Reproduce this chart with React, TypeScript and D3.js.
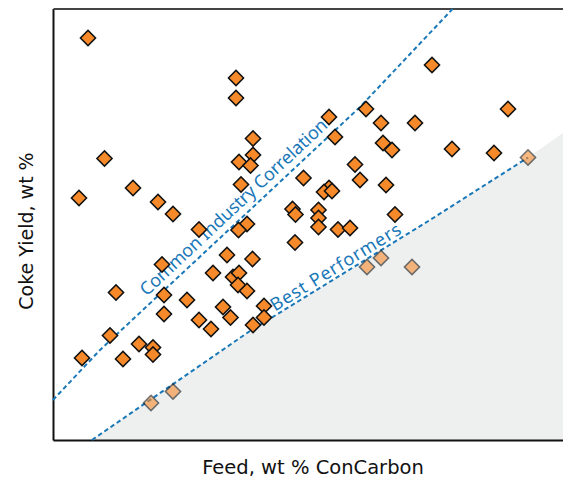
import React, { useEffect, useRef } from 'react';
import * as d3 from 'd3';

// feed ConCarbon (x) vs coke yield (y), arbitrary units
const refineryX = [3.5, 18.3, 18.3, 37.9, 45.5, 31.3, 27.6, 20.0, 32.8, 36.2, 28.2, 5.15, 20.0, 18.6, 19.75, 33.0, 33.9, 39.9, 44.1, 30.2, 18.8, 8.0, 2.6, 10.5, 12.0, 25.05, 30.7, 33.3, 27.6, 27.1, 27.9, 23.95, 24.25, 26.55, 26.55, 26.55, 34.2, 28.5, 29.7, 19.4, 18.55, 14.6, 24.2, 17.4, 19.95, 10.9, 16.0, 18.0, 18.6, 18.5, 19.4, 6.3, 11.1, 13.4, 17.0, 17.75, 21.1, 21.1, 11.1, 14.6, 15.8, 20.0, 5.7, 8.6, 10.0, 10.0, 2.9, 7.0];
const refineryY = [40.2, 36.2, 34.2, 37.5, 33.1, 33.1, 32.3, 30.15, 31.7, 31.7, 30.3, 28.15, 28.5, 27.8, 27.45, 29.7, 29.0, 29.1, 28.7, 27.55, 25.55, 25.2, 24.2, 23.8, 22.6, 26.2, 26.0, 25.5, 25.2, 24.8, 24.9, 23.1, 22.55, 23.0, 22.2, 21.3, 22.55, 21.05, 21.2, 21.6, 21.0, 21.05, 19.75, 18.5, 18.1, 17.55, 16.7, 16.3, 16.7, 15.5, 14.9, 14.75, 14.5, 14.0, 13.3, 12.25, 13.4, 12.25, 12.6, 12.0, 11.1, 11.5, 10.45, 9.6, 9.25, 8.55, 8.2, 8.1];

// points sitting in the shaded zone below the best performer line
const shadedX = [47.5, 9.8, 12.0, 31.4, 32.8, 35.9];
const shadedY = [28.25, 3.7, 4.85, 17.3, 18.2, 17.3];

const commonLine = [[0, 4.0], [4.7, 9.0], [19.7, 23.0], [30.7, 33.3], [40.0, 43.15]];
const bestLine = [[3.9, 0], [19.7, 10.9], [37.7, 22.0], [47.5, 28.25]];
const shadeEdge = [[3.9, 0], [19.7, 10.9], [37.7, 22.0], [47.5, 28.25], [51, 30.7], [51, 0]];

const xLabel = 'Feed, wt % ConCarbon';
const yLabel = 'Coke Yield, wt %';
const commonLabel = 'Common Industry Correlation';
const bestLabel = 'Best Performers';

const App = () => {
    const svgRef = useRef(null);

    useEffect(() => {
        const svg = d3.select(svgRef.current);
        svg.selectAll('*').remove();

        const left = 53, right = 563, top = 8.5, bottom = 440;
        const x = d3.scaleLinear().domain([0, 51]).range([left, right]);
        const y = d3.scaleLinear().domain([0, 43.15]).range([bottom, top]);

        const blue = '#1a78b8';
        const orange = '#f68a2b';

        // shaded region
        svg.append('path')
            .attr('d', d3.line().x(d => x(d[0])).y(d => y(d[1]))(shadeEdge) + 'Z')
            .attr('fill', '#eeefef');

        // frame
        svg.append('g')
            .attr('transform', `translate(0,${bottom})`)
            .call(d3.axisBottom(x).tickValues([]).tickSizeOuter(0))
            .select('.domain').attr('stroke', '#111').attr('stroke-width', 2);
        svg.append('g')
            .attr('transform', `translate(${left},0)`)
            .call(d3.axisLeft(y).tickValues([]).tickSizeOuter(0))
            .select('.domain').attr('stroke', '#111').attr('stroke-width', 2);
        svg.append('g')
            .attr('transform', `translate(0,${top})`)
            .call(d3.axisTop(x).tickValues([]).tickSizeOuter(0))
            .select('.domain').attr('stroke', '#444').attr('stroke-width', 2);

        const line = d3.line().x(d => x(d[0])).y(d => y(d[1]));
        [commonLine, bestLine].forEach(pts => {
            svg.append('path')
                .attr('d', line(pts))
                .attr('fill', 'none')
                .attr('stroke', blue)
                .attr('stroke-width', 2)
                .attr('stroke-dasharray', '4.5,3');
        });

        // labels along the lines
        const angle = (a, b) => Math.atan2(y(b[1]) - y(a[1]), x(b[0]) - x(a[0])) * 180 / Math.PI;
        const addLineLabel = (text, pos, ang, len) => {
            svg.append('text')
                .attr('transform', `translate(${x(pos[0])},${y(pos[1])}) rotate(${ang})`)
                .attr('font-family', '"Noto Sans", "Open Sans", sans-serif')
                .attr('font-size', 18)
                .attr('textLength', len)
                .attr('lengthAdjust', 'spacing')
                .attr('fill', blue)
                .text(text);
        };
        addLineLabel(commonLabel, [9.37, 14.33], angle(commonLine[1], commonLine[3]), 249);
        addLineLabel(bestLabel, [22.2, 12.83], angle(bestLine[1], bestLine[2]), 150);

        const diamond = d3.symbol(d3.symbolSquare, 115);

        svg.selectAll('.shaded')
            .data(shadedX.map((v, i) => [v, shadedY[i]]))
            .enter()
            .append('path')
            .attr('class', 'shaded')
            .attr('d', diamond)
            .attr('transform', d => `translate(${x(d[0])},${y(d[1])}) rotate(45)`)
            .attr('fill', orange)
            .attr('stroke', '#111')
            .attr('stroke-width', 1.5)
            .attr('opacity', 0.6);

        svg.selectAll('.dot')
            .data(refineryX.map((v, i) => [v, refineryY[i]]))
            .enter()
            .append('path')
            .attr('class', 'dot')
            .attr('d', diamond)
            .attr('transform', d => `translate(${x(d[0])},${y(d[1])}) rotate(45)`)
            .attr('fill', orange)
            .attr('stroke', '#111')
            .attr('stroke-width', 1.5);

        // axis titles
        svg.append('text')
            .attr('x', 313)
            .attr('y', 474)
            .attr('text-anchor', 'middle')
            .attr('font-family', '"DejaVu Sans", sans-serif')
            .attr('font-size', 19.5)
            .attr('fill', '#111')
            .text(xLabel);
        svg.append('text')
            .attr('transform', 'translate(33,231) rotate(-90)')
            .attr('text-anchor', 'middle')
            .attr('font-family', '"DejaVu Sans", sans-serif')
            .attr('font-size', 19)
            .attr('fill', '#111')
            .text(yLabel);
    }, []);

    return (
        <svg ref={svgRef} width="563" height="478"
            style={{ position: 'absolute', left: 0, top: 0, background: '#fff' }} />
    );
};

export default App;
